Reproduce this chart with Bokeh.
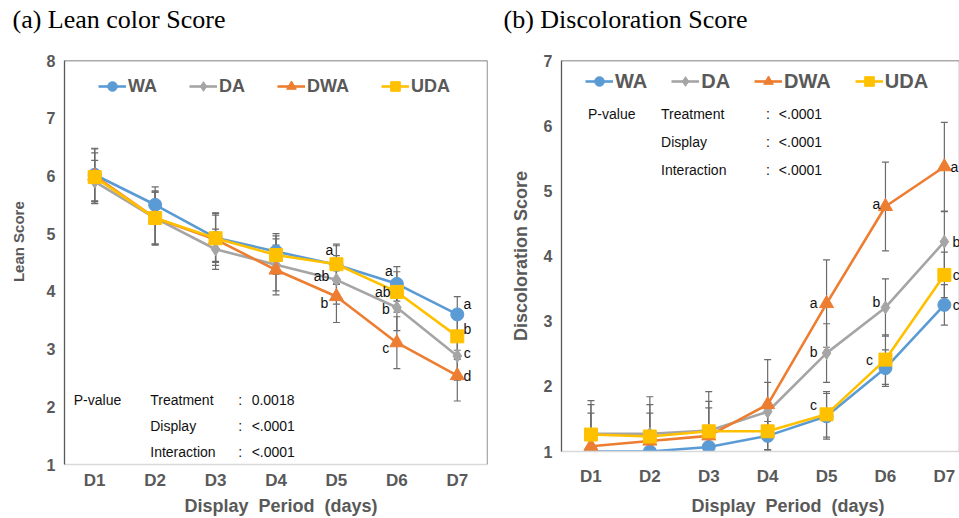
from bokeh.plotting import figure
from bokeh.models import ColumnDataSource, Span, Label, Legend, LegendItem, FixedTicker, Title
from bokeh.layouts import row
from bokeh.embed import file_html
from bokeh.resources import INLINE
from bokeh.core.properties import value

# ---------------- data ----------------
days = ["D1", "D2", "D3", "D4", "D5", "D6", "D7"]
series_names = ["WA", "DA", "DWA", "UDA"]

# (a) Lean color score
lean_WA = [6.02, 5.50, 4.93, 4.69, 4.46, 4.13, 3.60]
lean_DA = [5.90, 5.27, 4.73, 4.46, 4.20, 3.72, 2.88]
lean_DWA = [6.00, 5.27, 4.90, 4.37, 3.91, 3.11, 2.54]
lean_UDA = [5.98, 5.27, 4.92, 4.63, 4.47, 3.99, 3.22]
lean_sd_WA = [0.45, 0.31, 0.43, 0.31, 0.33, 0.30, 0.31]
lean_sd_DA = [0.37, 0.45, 0.35, 0.45, 0.42, 0.40, 0.42]
lean_sd_DWA = [0.48, 0.45, 0.45, 0.43, 0.45, 0.45, 0.44]
lean_sd_UDA = [0.42, 0.47, 0.40, 0.33, 0.35, 0.35, 0.40]

# (b) Discoloration score
disc_WA = [1.00, 1.00, 1.07, 1.24, 1.54, 2.28, 3.25]
disc_DA = [1.27, 1.27, 1.32, 1.61, 2.51, 3.21, 4.22]
disc_DWA = [1.08, 1.16, 1.24, 1.72, 3.27, 4.76, 5.37]
disc_UDA = [1.26, 1.23, 1.31, 1.31, 1.57, 2.41, 3.71]
disc_sd_WA = [0.00, 0.00, 0.27, 0.22, 0.35, 0.28, 0.31]
disc_sd_DA = [0.45, 0.45, 0.45, 0.45, 0.45, 0.44, 0.46]
disc_sd_DWA = [0.51, 0.43, 0.43, 0.69, 0.67, 0.68, 0.68]
disc_sd_UDA = [0.52, 0.61, 0.61, 0.35, 0.35, 0.38, 0.35]

# significance letters
lean_letter_day = [5, 5, 5, 6, 6, 6, 6, 7, 7, 7, 7]
lean_letter_series = ["WA", "DA", "DWA", "WA", "UDA", "DA", "DWA", "WA", "UDA", "DA", "DWA"]
lean_letter_text = ["a", "ab", "b", "a", "ab", "b", "c", "a", "b", "c", "d"]

disc_letter_day = [5, 5, 5, 6, 6, 6, 7, 7, 7, 7]
disc_letter_series = ["DWA", "DA", "UDA", "DWA", "DA", "UDA", "DWA", "DA", "UDA", "WA"]
disc_letter_text = ["a", "b", "c", "a", "b", "c", "a", "b", "c", "c"]

pvalue_terms = ["Treatment", "Display", "Interaction"]
lean_pvalues = ["0.0018", "<.0001", "<.0001"]
disc_pvalues = ["<.0001", "<.0001", "<.0001"]

# ---------------- styles ----------------
colors = {"WA": "#5B9BD5", "DA": "#A5A5A5", "DWA": "#ED7D31", "UDA": "#FFC000"}
markers = {"WA": "circle", "DA": "diamond", "DWA": "triangle", "UDA": "square"}
msize = {"WA": 13, "DA": 13, "DWA": 14, "UDA": 13}
AXIS_GRAY = "#595959"
ERR_GRAY = "#6b6b6b"
SANS = "Liberation Sans"
SERIF = "Liberation Serif"
NB = "\u00a0"

lean = {"WA": (lean_WA, lean_sd_WA), "DA": (lean_DA, lean_sd_DA),
        "DWA": (lean_DWA, lean_sd_DWA), "UDA": (lean_UDA, lean_sd_UDA)}
disc = {"WA": (disc_WA, disc_sd_WA), "DA": (disc_DA, disc_sd_DA),
        "DWA": (disc_DWA, disc_sd_DWA), "UDA": (disc_UDA, disc_sd_UDA)}

lean_offsets = [(-7, -15), (-15, -4), (-12, 6), (-8, -13), (-14, 0), (-11, 1),
                (-11, 5), (10, -10), (10, -7), (10, -3), (10, 0)]
disc_offsets = [(-13, -1), (-13, -1), (-13, -9), (-9, -2), (-9, -5), (-16, 0),
                (10, 0), (12, 0), (12, 0), (12, 0)]

xlabel_text = "Display" + NB + " Period" + NB + " (days)"


def build(data, ymin, ymax, xr, width, height, mb_left, mb_right, mb_bottom,
          title, title_offset, legend_loc, legend_font, legend_spacing,
          letters, offsets, pv_vals, pv_x, pv_y, ylabel, ylabel_size, xlabel,
          x_tick_standoff, x_label_standoff, y_tick_standoff, y_label_standoff):
    p = figure(width=width, height=height, x_range=xr, y_range=(ymin, ymax),
               output_backend="svg", toolbar_location=None, tools="", title=None,
               min_border_left=mb_left, min_border_right=mb_right,
               min_border_top=60, min_border_bottom=mb_bottom)
    p.frame_align = False
    p.outline_line_color = None
    p.xgrid.visible = False
    p.ygrid.visible = False
    p.background_fill_color = "white"
    p.border_fill_color = "white"

    # spacer (nearest the frame), then the title above it
    p.add_layout(Title(text=NB, text_font_size="1px", standoff=24,
                       text_color="white"), "above")
    p.add_layout(Title(text=title, text_font=SERIF, text_font_size="26px",
                       text_font_style="normal", text_color="#000000",
                       align="left", offset=title_offset, standoff=0), "above")

    x = list(range(1, len(days) + 1))

    # error bars
    for s in series_names:
        vals, sd = data[s]
        lo = [v - e for v, e in zip(vals, sd)]
        hi = [v + e for v, e in zip(vals, sd)]
        src = ColumnDataSource(dict(x=x, lo=lo, hi=hi))
        p.segment(x0="x", y0="lo", x1="x", y1="hi", source=src,
                  line_color=ERR_GRAY, line_width=1.2)
        p.scatter(x="x", y="hi", source=src, marker="dash", size=7,
                  line_color=ERR_GRAY, line_width=1.2)
        p.scatter(x="x", y="lo", source=src, marker="dash", size=7,
                  line_color=ERR_GRAY, line_width=1.2)

    items = []
    for s in series_names:
        vals, sd = data[s]
        src = ColumnDataSource(dict(x=x, y=vals))
        l = p.line(x="x", y="y", source=src, line_color=colors[s], line_width=2.6)
        m = p.scatter(x="x", y="y", source=src, marker=markers[s], size=msize[s],
                      fill_color=colors[s], line_color=colors[s])
        items.append(LegendItem(label=s, renderers=[l, m]))

    # letters
    ldays, lser, ltxt = letters
    ly = [data[s][0][d - 1] for d, s in zip(ldays, lser)]
    lsrc = ColumnDataSource(dict(x=ldays, y=ly, t=ltxt,
                                 dx=[o[0] for o in offsets], dy=[o[1] for o in offsets]))
    p.text(x="x", y="y", text="t", source=lsrc, x_offset="dx", y_offset="dy",
           text_align="center", text_baseline="middle",
           text_font=value(SANS), text_font_size="14px", text_color="#111111")

    # p-value block
    p.add_layout(Label(x=pv_x[0], y=pv_y[0], text="P-value", text_font=SANS,
                       text_font_size="14px", text_color="#111111", text_baseline="middle"))
    for i, term in enumerate(pvalue_terms):
        p.add_layout(Label(x=pv_x[1], y=pv_y[i], text=term, text_font=SANS,
                           text_font_size="14px", text_color="#111111", text_baseline="middle"))
        p.add_layout(Label(x=pv_x[2], y=pv_y[i], text=":", text_font=SANS,
                           text_font_size="14px", text_color="#111111", text_baseline="middle"))
        p.add_layout(Label(x=pv_x[3], y=pv_y[i], text=pv_vals[i], text_font=SANS,
                           text_font_size="14px", text_color="#111111", text_baseline="middle"))

    # frame lines
    p.add_layout(Span(location=ymax, dimension="width", line_color=AXIS_GRAY, line_width=1.3))
    if xr[1] <= 7.5:
        p.add_layout(Span(location=xr[1], dimension="height", line_color=AXIS_GRAY, line_width=1.3))

    leg = Legend(items=items, orientation="horizontal", location=legend_loc,
                 border_line_color=None, background_fill_alpha=0, padding=0, margin=0,
                 spacing=legend_spacing, glyph_width=28, glyph_height=24, label_standoff=2,
                 label_text_font=SANS, label_text_font_style="bold",
                 label_text_font_size=legend_font, label_text_color=AXIS_GRAY)
    p.add_layout(leg, "center")

    # axes
    p.xaxis.ticker = FixedTicker(ticks=x)
    p.xaxis.major_label_overrides = {i + 1: d for i, d in enumerate(days)}
    p.xaxis.axis_label = xlabel
    p.yaxis.axis_label = ylabel
    p.yaxis.ticker = FixedTicker(ticks=list(range(int(ymin), int(ymax) + 1)))
    for ax in (p.xaxis[0], p.yaxis[0]):
        ax.major_tick_line_color = None
        ax.minor_tick_line_color = None
        ax.major_tick_out = 0
        ax.major_tick_in = 0
        ax.minor_tick_out = 0
        ax.minor_tick_in = 0
        ax.major_label_text_font = SANS
        ax.major_label_text_font_style = "bold"
        ax.major_label_text_color = AXIS_GRAY
        ax.axis_label_text_font = SANS
        ax.axis_label_text_font_style = "bold"
        ax.axis_label_text_color = AXIS_GRAY
    p.xaxis.major_label_text_font_size = "17px"
    p.yaxis.major_label_text_font_size = "16px"
    p.xaxis.axis_label_text_font_size = "18px"
    p.yaxis.axis_label_text_font_size = ylabel_size
    p.xaxis.axis_line_color = "#D9D9D9"
    p.xaxis.axis_line_width = 1.3
    p.yaxis.axis_line_color = AXIS_GRAY
    p.yaxis.axis_line_width = 1.3
    p.xaxis.major_label_standoff = x_tick_standoff
    p.xaxis.axis_label_standoff = x_label_standoff
    p.yaxis.major_label_standoff = y_tick_standoff
    p.yaxis.axis_label_standoff = y_label_standoff
    return p


p1 = build(lean, 1, 8, (0.5, 7.5), 490, 518, 64, 3, 53,
           "(a) Lean color Score", -52, (34, 366), "18px", 32,
           (lean_letter_day, lean_letter_series, lean_letter_text), lean_offsets,
           lean_pvalues, [0.653, 1.919, 3.376, 3.597], [2.11, 1.67, 1.22],
           NB * 10 + "Lean Score", "15px", NB * 2 + xlabel_text, 6, 3, 9, 17)

p2 = build(disc, 1, 7, (0.5, 7.257), 469, 518, 71, 0, 66,
           "(b) Discoloration Score", -58, (24, 358), "20px", 24,
           (disc_letter_day, disc_letter_series, disc_letter_text), disc_offsets,
           disc_pvalues, [0.95, 2.19, 3.97, 4.19], [6.18, 5.75, 5.32],
           "Discoloration Score", "18px", NB * 11 + xlabel_text, 15, 7, 9, 10)

layout = row(p1, p2)
open("out.html", "w").write(file_html(layout, INLINE))
